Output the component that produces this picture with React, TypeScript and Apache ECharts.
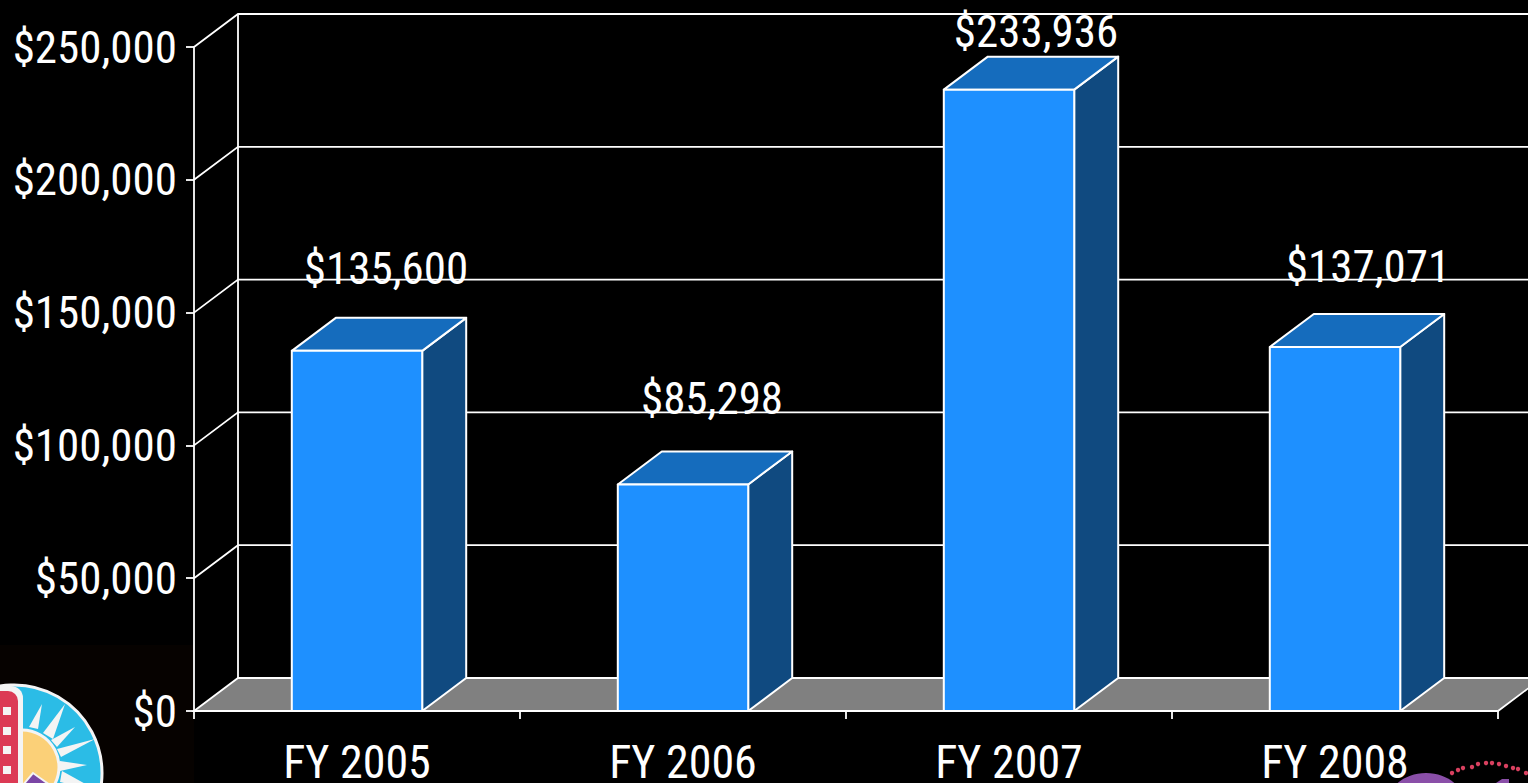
import React, { useEffect, useRef } from "react";
import * as echarts from "echarts";

const categories = ["FY 2005", "FY 2006", "FY 2007", "FY 2008"];
const amounts = [135600, 85298, 233936, 137071];
const amountLabels = ["$135,600", "$85,298", "$233,936", "$137,071"];
const yTicks = [0, 50000, 100000, 150000, 200000, 250000];

const DEPTH_X = 44;
const DEPTH_Y = 33;
const FONT = '"Roboto Condensed", "Liberation Sans", sans-serif';
const LINE = "#ffffff";
const labelRise = [49, 53, 49, 47];
const labelShift = [7, 7, 5, 11];
const LABEL_MIN_Y = 31;

const wallStyle = { stroke: LINE, lineWidth: 1.8, fill: "none" };

function renderWall(params: any, api: any) {
  const cs = params.coordSys;
  const val = api.value(0);
  const y = api.coord([0, val])[1];
  const x0 = cs.x;
  const x1 = cs.x + cs.width;
  const children: any[] = [];
  if (val === 0) {
    children.push({
      type: "polygon",
      shape: { points: [[x0, y], [x0 + DEPTH_X, y - DEPTH_Y], [x1 + DEPTH_X, y - DEPTH_Y], [x1, y]] },
      style: { fill: "#808080", stroke: LINE, lineWidth: 1.8 },
    });
    const top = api.coord([0, 250000])[1];
    children.push({
      type: "line",
      shape: { x1: x0 + DEPTH_X, y1: y - DEPTH_Y, x2: x0 + DEPTH_X, y2: top - DEPTH_Y },
      style: wallStyle,
    });
  } else {
    children.push({
      type: "polyline",
      shape: { points: [[x0, y], [x0 + DEPTH_X, y - DEPTH_Y], [x1 + DEPTH_X, y - DEPTH_Y]] },
      style: wallStyle,
    });
  }
  return { type: "group", children };
}

function renderBar(params: any, api: any) {
  const i = api.value(0);
  const v = api.value(1);
  const c = api.coord([i, v]);
  const base = api.coord([i, 0]);
  const w = api.size([1, 0])[0] * 0.4;
  const l = c[0] - w / 2;
  const r = c[0] + w / 2;
  const t = c[1];
  const b = base[1];
  const edge = { stroke: LINE, lineWidth: 2, lineJoin: "round" };
  return {
    type: "group",
    children: [
      {
        type: "polygon",
        shape: { points: [[r, t], [r + DEPTH_X, t - DEPTH_Y], [r + DEPTH_X, b - DEPTH_Y], [r, b]] },
        style: { fill: "#104a80", ...edge },
      },
      {
        type: "polygon",
        shape: { points: [[l, t], [l + DEPTH_X, t - DEPTH_Y], [r + DEPTH_X, t - DEPTH_Y], [r, t]] },
        style: { fill: "#156cbd", ...edge },
      },
      {
        type: "polygon",
        shape: { points: [[l, t], [r, t], [r, b], [l, b]] },
        style: { fill: "#1e90ff", ...edge },
      },
      {
        type: "text",
        style: {
          text: amountLabels[params.dataIndex],
          x: c[0] + DEPTH_X / 2 + labelShift[params.dataIndex],
          y: Math.max(LABEL_MIN_Y, t - DEPTH_Y - labelRise[params.dataIndex]),
          fill: "#ffffff",
          font: `45px ${FONT}`,
          align: "center",
          verticalAlign: "middle",
        },
      },
    ],
  };
}

const sunRays = [
  [[42, 704], [29, 727], [38, 729]],
  [[65, 704], [43, 733], [53, 739]],
  [[75, 727], [51, 740], [57, 747]],
  [[95, 739], [57, 749], [61, 757]],
  [[87, 765], [60, 761], [60, 771]],
  [[100, 792], [62, 771], [60, 782]],
];
const filmHoles = [707, 727, 746, 766];
const festivalDots = [
  [1452, 773], [1458, 770], [1463, 768], [1472, 767], [1478, 764], [1486, 763],
  [1492, 763], [1499, 764], [1506, 766], [1513, 768], [1518, 769], [1526, 773],
];

function logoGraphics() {
  const g: any[] = [
    { type: "rect", shape: { x: 0, y: 645, width: 194, height: 138 }, style: { fill: "#060200" }, z: -10 },
    { type: "circle", shape: { cx: 14, cy: 773, r: 88 }, style: { fill: "#2bbce6", stroke: "#f4f4f4", lineWidth: 3 } },
  ];
  sunRays.forEach((p) => g.push({ type: "polygon", shape: { points: p }, style: { fill: "#f4f4f4" } }));
  g.push({ type: "circle", shape: { cx: 22, cy: 767, r: 37 }, style: { fill: "#fbd078", stroke: "#f4f4f4", lineWidth: 3 } });
  g.push({ type: "rect", shape: { x: -10, y: 686, width: 33, height: 100, r: [0, 12, 0, 0] }, style: { fill: "#f4f4f4" } });
  g.push({ type: "rect", shape: { x: -10, y: 691, width: 28, height: 95, r: [0, 10, 0, 0] }, style: { fill: "#dc3a55" } });
  filmHoles.forEach((y) =>
    g.push({ type: "rect", shape: { x: 3, y, width: 8, height: 8 }, style: { fill: "#f4f4f4" } })
  );
  g.push({
    type: "polygon",
    shape: { points: [[23, 785], [33, 773], [40, 778], [50, 785]] },
    style: { fill: "#7b46a5", stroke: "#f4f4f4", lineWidth: 2 },
  });
  g.push({ type: "ellipse", shape: { cx: 1426, cy: 803, rx: 38, ry: 30 }, style: { fill: "#8a4fa8" } });
  g.push({
    type: "polygon",
    shape: { points: [[1493, 785], [1502, 779], [1509, 779], [1509, 785]] },
    style: { fill: "#8a4fa8" },
  });
  festivalDots.forEach(([cx, cy]) =>
    g.push({ type: "circle", shape: { cx, cy, r: 2.2 }, style: { fill: "#d8405f" } })
  );
  return g;
}

export default function App() {
  const ref = useRef<HTMLDivElement>(null);
  useEffect(() => {
    const chart = echarts.init(ref.current!, null, { renderer: "svg" });
    chart.setOption({
      animation: false,
      backgroundColor: "#000000",
      grid: { left: 194, right: 30, top: 47, bottom: 72, outerBoundsMode: "none" },
      graphic: logoGraphics(),
      xAxis: {
        type: "category",
        data: categories,
        boundaryGap: true,
        axisLine: { lineStyle: { color: LINE, width: 1.8 } },
        axisTick: { show: true, length: 8, alignWithLabel: false, lineStyle: { color: LINE, width: 1.8 } },
        axisLabel: { color: "#ffffff", fontFamily: FONT, fontSize: 46, lineHeight: 40, margin: 31 },
      },
      yAxis: {
        type: "value",
        min: 0,
        max: 250000,
        interval: 50000,
        splitLine: { show: false },
        axisLine: { show: true, lineStyle: { color: LINE, width: 1.8 } },
        axisTick: { show: true, length: 8, lineStyle: { color: LINE, width: 1.8 } },
        axisLabel: {
          color: "#ffffff",
          fontFamily: FONT,
          fontSize: 45,
          margin: 17,
          formatter: (v: number) => "$" + v.toLocaleString("en-US"),
        },
      },
      series: [
        {
          type: "custom",
          coordinateSystem: "cartesian2d",
          clip: false,
          silent: true,
          z: 1,
          renderItem: renderWall,
          data: yTicks.map((v) => [v]),
          encode: { y: 0 },
        },
        {
          type: "custom",
          coordinateSystem: "cartesian2d",
          clip: false,
          silent: true,
          z: 3,
          renderItem: renderBar,
          data: amounts.map((v, i) => [i, v]),
          encode: { x: 0, y: 1 },
        },
      ],
    });
    return () => chart.dispose();
  }, []);
  return <div ref={ref} style={{ position: "fixed", left: 0, top: 0, width: 1528, height: 783 }} />;
}
